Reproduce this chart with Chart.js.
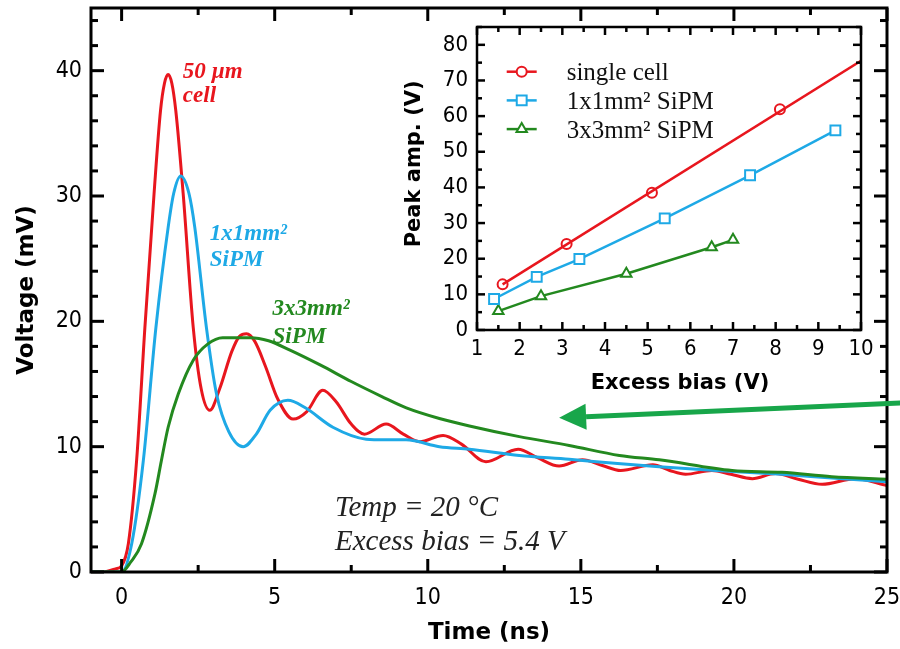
<!DOCTYPE html>
<html><head><meta charset="utf-8">
<script src="https://cdn.jsdelivr.net/npm/chart.js@4/dist/chart.umd.min.js"></script>
<style>
html,body{margin:0;padding:0;background:#fff;}
#wrap{position:relative;width:900px;height:649px;overflow:hidden;background:#fff;}
canvas{position:absolute;left:0;top:0;}
</style>
</head><body>
<div id="wrap"><canvas id="main" width="900" height="649"></canvas><canvas id="inset" width="900" height="649"></canvas></div>
<script>
// ---------- main chart data (Time in ns, Voltage in mV) ----------
const redT = [-1, -0.5, -0.2, 0, 0.22, 0.49, 0.76, 1.06, 1.27, 1.4, 1.52, 1.64, 1.77, 2.01, 2.34, 2.6, 2.88, 3.2, 3.6, 3.85, 4.08, 4.35, 4.7, 5.1, 5.6, 6.05, 6.57, 7.0, 7.5, 7.93, 8.64, 9.2, 9.73, 10.5, 11.1, 11.9, 12.95, 13.6, 14.29, 15.05, 15.7, 16.3, 17.35, 17.9, 18.42, 19.28, 19.9, 20.6, 21.36, 22.1, 22.88, 23.97, 25];
const redV = [0, 0.05, 0.25, 0.5, 2.26, 8.9, 19.5, 30.2, 36.8, 39.0, 39.7, 39.0, 36.8, 30.2, 19.5, 14.6, 12.9, 14.6, 17.6, 18.8, 19.0, 18.4, 16.4, 13.8, 12.2, 12.8, 14.5, 13.6, 11.8, 11.0, 11.8, 11.0, 10.4, 10.9, 10.2, 8.8, 9.8, 9.1, 8.45, 8.95, 8.5, 8.1, 8.55, 8.1, 7.8, 8.1, 7.8, 7.45, 7.85, 7.4, 7.0, 7.45, 6.9];
const blueT = [-1, 0, 0.33, 0.71, 1.12, 1.52, 1.7, 1.93, 2.2, 2.39, 2.77, 3.1, 3.5, 3.97, 4.4, 4.85, 5.43, 6.0, 6.9, 7.99, 8.6, 9.29, 10.38, 11.36, 12.99, 14.62, 16.2, 17.56, 19.4, 21.57, 23.2, 25];
const blueV = [0, 0, 2.26, 8.9, 19.5, 27.5, 30.2, 31.6, 30.2, 27.5, 19.5, 14.2, 11.2, 10.0, 11.0, 12.9, 13.7, 13.1, 11.55, 10.6, 10.55, 10.55, 10.0, 9.8, 9.3, 9.0, 8.65, 8.4, 8.1, 7.8, 7.5, 7.2];
const greenT = [-1, 0, 0.3, 0.65, 1.09, 1.3, 1.52, 1.85, 2.34, 2.82, 3.3, 4.2, 4.8, 5.5, 6.5, 7.5, 8.5, 9.3, 10.38, 11.36, 12.99, 14.62, 16.26, 17.56, 19.94, 21.57, 23.2, 25];
const greenV = [0, 0, 0.8, 2.26, 6.25, 8.9, 11.55, 14.2, 16.9, 18.2, 18.7, 18.7, 18.45, 17.7, 16.5, 15.2, 14.0, 13.1, 12.25, 11.65, 10.8, 10.1, 9.3, 8.95, 8.1, 7.95, 7.6, 7.4];
const timeTicks = [0, 5, 10, 15, 20, 25];
const timeMinor = [2.5, 7.5, 12.5, 17.5, 22.5];
const voltTicks = [0, 10, 20, 30, 40];
const voltMinor = [2, 4, 6, 8, 12, 14, 16, 18, 22, 24, 26, 28, 32, 34, 36, 38, 42, 44];

// ---------- inset data (Excess bias in V, Peak amp. in V) ----------
const biasSingle = [1.6, 3.1, 5.1, 8.1];
const ampSingle = [12.8, 24.1, 38.5, 61.9];
const singleFitBias = [1.6, 10];
const singleFitAmp = [12.8, 75.5];
const bias1x1 = [1.4, 2.4, 3.4, 5.4, 7.4, 9.4];
const amp1x1 = [8.7, 14.9, 19.9, 31.3, 43.4, 56.0];
const bias3x3 = [1.5, 2.5, 4.5, 6.5, 7.0];
const amp3x3 = [5.3, 9.5, 15.8, 23.2, 25.3];
const biasTicks = [1, 2, 3, 4, 5, 6, 7, 8, 9, 10];
const biasMinor = [1.5, 2.5, 3.5, 4.5, 5.5, 6.5, 7.5, 8.5, 9.5];
const ampTicks = [0, 10, 20, 30, 40, 50, 60, 70, 80];
const ampMinor = [5, 15, 25, 35, 45, 55, 65, 75, 85];
const insetNames = ['single cell', '1x1mm\u00B2 SiPM', '3x3mm\u00B2 SiPM'];

const RED = '#e8161e', BLUE = '#1ea9e6', GREEN = '#23891f', ARROW = '#18a64a';
const pts = (xs, ys) => xs.map((x, i) => ({x: x, y: ys[i]}));

const TICKFONT = '"DejaVu Sans Condensed", "Open Sans", sans-serif';
const noPad = s => { s.paddingTop = 0; s.paddingBottom = 0; s.paddingLeft = 0; s.paddingRight = 0; };

const boxTicks = {
  id: 'boxTicks',
  afterDatasetsDraw(chart, args, o) {
    const {ctx, chartArea: a, scales: {x, y}} = chart;
    ctx.save();
    ctx.strokeStyle = '#000';
    ctx.lineCap = 'butt';
    ctx.lineWidth = o.tickWidth;
    const seg = (x1, y1, x2, y2) => { ctx.beginPath(); ctx.moveTo(x1, y1); ctx.lineTo(x2, y2); ctx.stroke(); };
    const xs = (vals, len) => vals.forEach(v => { const p = x.getPixelForValue(v); seg(p, a.bottom, p, a.bottom - len); seg(p, a.top, p, a.top + len); });
    const ys = (vals, len) => vals.forEach(v => { const p = y.getPixelForValue(v); seg(a.left, p, a.left + len, p); seg(a.right, p, a.right - len, p); });
    xs(o.xMajor, o.major); xs(o.xMinor, o.minor);
    ys(o.yMajor, o.major); ys(o.yMinor, o.minor);
    ctx.lineWidth = o.border;
    ctx.strokeRect(a.left, a.top, a.right - a.left, a.bottom - a.top);
    ctx.restore();
  }
};

const curveLabels = [
  {lines: ['50 \u00B5m', 'cell'], color: RED, t: 2.0, v: [39.45, 37.5]},
  {lines: ['1x1mm\u00B2', 'SiPM'], color: BLUE, t: 2.88, v: [26.5, 24.45]},
  {lines: ['3x3mm\u00B2', 'SiPM'], color: GREEN, t: 4.93, v: [20.5, 18.3]}
];
const noteLines = ['Temp = 20 \u00B0C', 'Excess bias = 5.4 V'];
const noteAnchor = {t: 6.97, v: [4.5, 1.73]};
const arrowFrom = {t: 25.5, v: 13.5}, arrowTo = {t: 14.29, v: 12.3};

const annotations = {
  id: 'annotations',
  afterDraw(chart) {
    const {ctx, scales: {x, y}} = chart;
    ctx.save();
    ctx.textBaseline = 'alphabetic';
    ctx.textAlign = 'left';
    curveLabels.forEach(l => {
      ctx.fillStyle = l.color;
      ctx.font = 'italic bold 23px "Liberation Serif", serif';
      l.lines.forEach((s, i) => ctx.fillText(s, x.getPixelForValue(l.t), y.getPixelForValue(l.v[i])));
    });
    ctx.fillStyle = '#222';
    ctx.font = 'italic 29px "Liberation Serif", serif';
    noteLines.forEach((s, i) => ctx.fillText(s, x.getPixelForValue(noteAnchor.t), y.getPixelForValue(noteAnchor.v[i])));
    // arrow
    const x1 = x.getPixelForValue(arrowFrom.t), y1 = y.getPixelForValue(arrowFrom.v);
    const x2 = x.getPixelForValue(arrowTo.t), y2 = y.getPixelForValue(arrowTo.v);
    const ang = Math.atan2(y2 - y1, x2 - x1);
    const hl = 27, hw = 13;
    const bx = x2 - hl * Math.cos(ang), by = y2 - hl * Math.sin(ang);
    ctx.strokeStyle = ARROW; ctx.fillStyle = ARROW; ctx.lineWidth = 5;
    ctx.beginPath(); ctx.moveTo(x1, y1); ctx.lineTo(bx, by); ctx.stroke();
    ctx.beginPath();
    ctx.moveTo(x2, y2);
    ctx.lineTo(bx - hw * Math.sin(ang), by + hw * Math.cos(ang));
    ctx.lineTo(bx + hw * Math.sin(ang), by - hw * Math.cos(ang));
    ctx.closePath(); ctx.fill();
    ctx.restore();
  }
};

new Chart(document.getElementById('main'), {
  type: 'line',
  data: {datasets: [
    {label: '3x3mm\u00B2 SiPM', data: pts(greenT, greenV), borderColor: GREEN},
    {label: '1x1mm\u00B2 SiPM', data: pts(blueT, blueV), borderColor: BLUE},
    {label: '50 \u00B5m cell', data: pts(redT, redV), borderColor: RED}
  ]},
  options: {
    responsive: false, animation: false, events: [],
    layout: {padding: {top: 8, right: 13, left: 0, bottom: 0}, autoPadding: false},
    elements: {point: {radius: 0}, line: {borderWidth: 3, cubicInterpolationMode: 'monotone', fill: false}},
    plugins: {
      legend: {display: false}, tooltip: {enabled: false},
      boxTicks: {xMajor: timeTicks, xMinor: timeMinor, yMajor: voltTicks, yMinor: voltMinor, major: 13, minor: 7, tickWidth: 3, border: 3}
    },
    scales: {
      x: {
        type: 'linear', min: -1, max: 25,
        afterBuildTicks: s => { s.ticks = timeTicks.map(v => ({value: v})); },
        afterFit: s => { s.height = 77; noPad(s); },
        grid: {display: false, drawTicks: false}, border: {display: false},
        ticks: {color: '#000', font: {family: TICKFONT, size: 23}, padding: 12, maxRotation: 0, autoSkip: false},
        title: {display: true, text: 'Time (ns)', color: '#000', font: {family: '"DejaVu Sans", sans-serif', weight: 'bold', size: 23}, padding: {top: 0, bottom: 2}}
      },
      y: {
        type: 'linear', min: 0, max: 45,
        afterBuildTicks: s => { s.ticks = voltTicks.map(v => ({value: v})); },
        afterFit: s => { s.width = 91; noPad(s); },
        grid: {display: false, drawTicks: false}, border: {display: false},
        ticks: {color: '#000', font: {family: TICKFONT, size: 23}, padding: 9, autoSkip: false},
        title: {display: true, text: 'Voltage (mV)', color: '#000', font: {family: '"DejaVu Sans", sans-serif', weight: 'bold', size: 23}, padding: {top: 13, bottom: 0}}
      }
    }
  },
  plugins: [boxTicks, annotations]
});

const insetStyles = [
  {color: RED, style: 'circle', radius: 5},
  {color: BLUE, style: 'rect', radius: 7},
  {color: GREEN, style: 'triangle', radius: 6}
];
const insetLegend = {
  id: 'insetLegend',
  afterDraw(chart, args, o) {
    const {ctx, chartArea: a} = chart;
    ctx.save();
    insetNames.forEach((name, i) => {
      const st = insetStyles[i];
      const y = a.top + o.top + i * o.gap;
      const x0 = a.left + o.lineLeft;
      ctx.strokeStyle = st.color; ctx.lineWidth = 2.5;
      ctx.beginPath(); ctx.moveTo(x0, y); ctx.lineTo(x0 + o.lineLen, y); ctx.stroke();
      ctx.fillStyle = '#fff'; ctx.lineWidth = 2;
      Chart.helpers.drawPoint(ctx, {pointStyle: st.style, radius: st.radius, borderWidth: 2, rotation: 0}, x0 + o.lineLen / 2, y);
      ctx.fillStyle = '#111';
      ctx.font = '25px "Liberation Serif", serif';
      ctx.textBaseline = 'alphabetic'; ctx.textAlign = 'left';
      ctx.fillText(name, a.left + o.textLeft, y + 8.5);
    });
    ctx.restore();
  }
};

const markerSet = (label, xs, ys, i) => ({
  label: label, data: pts(xs, ys), showLine: true, borderColor: insetStyles[i].color, borderWidth: 2.5,
  pointStyle: insetStyles[i].style, pointRadius: insetStyles[i].radius, pointBorderWidth: 2,
  pointBorderColor: insetStyles[i].color, pointBackgroundColor: '#fff'
});

new Chart(document.getElementById('inset'), {
  type: 'scatter',
  data: {datasets: [
    {label: 'fit', data: pts(singleFitBias, singleFitAmp), showLine: true, borderColor: RED, borderWidth: 2.5, pointRadius: 0},
    Object.assign(markerSet(insetNames[0], biasSingle, ampSingle, 0), {showLine: false}),
    markerSet(insetNames[1], bias1x1, amp1x1, 1),
    markerSet(insetNames[2], bias3x3, amp3x3, 2)
  ]},
  options: {
    responsive: false, animation: false, events: [],
    layout: {padding: {top: 27, right: 39, left: 395, bottom: 249}, autoPadding: false},
    plugins: {
      legend: {display: false}, tooltip: {enabled: false},
      boxTicks: {xMajor: biasTicks, xMinor: biasMinor, yMajor: ampTicks, yMinor: ampMinor, major: 8, minor: 5, tickWidth: 2.5, border: 2.5},
      insetLegend: {top: 44.7, gap: 28.7, lineLeft: 29.7, lineLen: 30, textLeft: 89.7}
    },
    scales: {
      x: {
        type: 'linear', min: 1, max: 10,
        afterBuildTicks: s => { s.ticks = biasTicks.map(v => ({value: v})); },
        afterFit: s => { s.height = 70; noPad(s); },
        grid: {display: false, drawTicks: false}, border: {display: false},
        ticks: {color: '#000', font: {family: TICKFONT, size: 22}, padding: 6, maxRotation: 0, autoSkip: false},
        title: {display: true, text: '   Excess bias (V)', color: '#000', font: {family: '"DejaVu Sans", sans-serif', weight: 'bold', size: 21}, padding: {top: 0, bottom: 4}}
      },
      y: {
        type: 'linear', min: 0, max: 85,
        afterBuildTicks: s => { s.ticks = ampTicks.map(v => ({value: v})); },
        afterFit: s => { s.width = 82; noPad(s); },
        grid: {display: false, drawTicks: false}, border: {display: false},
        ticks: {color: '#000', font: {family: TICKFONT, size: 22}, padding: 9, autoSkip: false},
        title: {display: true, text: '    Peak amp. (V)', color: '#000', font: {family: '"DejaVu Sans", sans-serif', weight: 'bold', size: 21}, padding: {top: 7, bottom: 0}}
      }
    }
  },
  plugins: [boxTicks, insetLegend]
});
</script>
</body></html>
